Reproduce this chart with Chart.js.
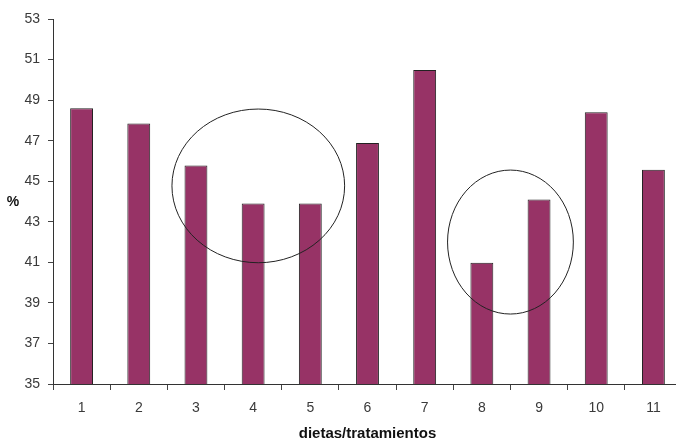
<!DOCTYPE html>
<html>
<head>
<meta charset="utf-8">
<script src="https://cdn.jsdelivr.net/npm/chart.js@4/dist/chart.umd.min.js"></script>
<style>
  html, body { margin: 0; padding: 0; background: #fff; overflow: hidden; }
  #wrap { width: 690px; height: 443px; }
</style>
</head>
<body>
<div id="wrap"><canvas id="c" width="690" height="443"></canvas></div>
<script>
// categories (dietas / tratamientos) and the measured percentages
var dietas = ["1", "2", "3", "4", "5", "6", "7", "8", "9", "10", "11"];
var valores = [48.6, 47.85, 45.78, 43.9, 43.9, 46.88, 50.49, 40.98, 44.1, 48.4, 45.56];

// y axis range
var yMin = 35, yMax = 53, yStep = 2;

// hand-drawn ellipses around groups, in data units (category index / %)
var elipseX = [3.09, 7.5];
var elipseY = [44.77, 42.0];
var elipseRx = [1.51, 1.10];
var elipseRy = [3.79, 3.55];

var tickColor = "#3a3a3a";

var elipses = {
    id: "elipses",
    afterDatasetsDraw: function (chart) {
        var ctx = chart.ctx, x = chart.scales.x, y = chart.scales.y;
        ctx.save();
        ctx.strokeStyle = "#222";
        ctx.lineWidth = 1;
        for (var i = 0; i < elipseX.length; i++) {
            var cx = x.getPixelForValue(elipseX[i]);
            var cy = y.getPixelForValue(elipseY[i]);
            var rx = x.getPixelForValue(elipseX[i] + elipseRx[i]) - cx;
            var ry = cy - y.getPixelForValue(elipseY[i] + elipseRy[i]);
            ctx.beginPath();
            ctx.ellipse(cx, cy, rx, ry, 0, 0, Math.PI * 2);
            ctx.stroke();
        }
        ctx.restore();
    }
};

// the "%" label sits horizontally left of the axis
var porcentaje = {
    id: "porcentaje",
    afterDraw: function (chart) {
        var ctx = chart.ctx, a = chart.chartArea;
        ctx.save();
        ctx.font = "bold 14px 'Liberation Sans', Arial, sans-serif";
        ctx.fillStyle = "#111";
        ctx.textAlign = "center";
        ctx.textBaseline = "middle";
        ctx.fillText("%", 13, (a.top + a.bottom) / 2 + 1);
        ctx.restore();
    }
};

new Chart(document.getElementById("c"), {
    type: "bar",
    data: {
        labels: dietas,
        datasets: [{
            data: valores,
            backgroundColor: "#973366",
            borderColor: "#222",
            borderWidth: 1,
            barPercentage: 0.4,
            categoryPercentage: 1.0
        }]
    },
    options: {
        responsive: false,
        animation: false,
        layout: { padding: { left: 0, right: 8, top: 19, bottom: 0 } },
        plugins: { legend: { display: false }, tooltip: { enabled: false } },
        scales: {
            x: {
                afterFit: function (s) { s.height = 59; },
                grid: { drawOnChartArea: false, drawTicks: true, tickLength: 6, color: "#444", offset: true },
                border: { display: true, color: "#333", width: 1 },
                ticks: { color: tickColor, padding: 10, font: { family: "'Liberation Sans', Arial, sans-serif", size: 14 } },
                title: {
                    display: true,
                    text: "dietas/tratamientos",
                    color: "#111",
                    font: { family: "'Liberation Sans', Arial, sans-serif", size: 15, weight: "bold" },
                    padding: { top: 0, bottom: 0 }
                }
            },
            y: {
                min: yMin,
                max: yMax,
                afterFit: function (s) { s.width = 53; },
                grid: { drawOnChartArea: false, drawTicks: true, tickLength: 5, color: "#444" },
                border: { display: true, color: "#333", width: 1 },
                ticks: { stepSize: yStep, color: tickColor, padding: 8, font: { family: "'Liberation Sans', Arial, sans-serif", size: 14 } }
            }
        }
    },
    plugins: [elipses, porcentaje]
});
</script>
</body>
</html>
